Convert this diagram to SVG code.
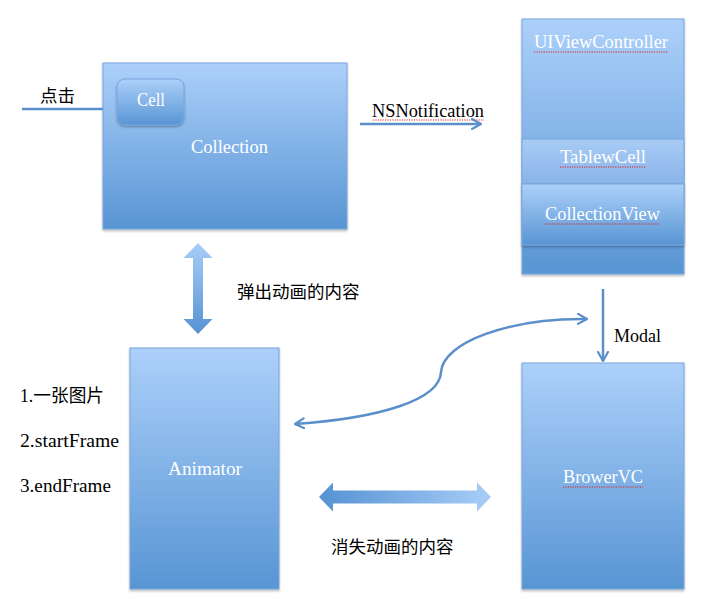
<svg xmlns="http://www.w3.org/2000/svg" width="716" height="610" viewBox="0 0 716 610">
<defs>
<linearGradient id="gv" x1="0" y1="0" x2="0" y2="1">
<stop offset="0" stop-color="#acd0fa"/>
<stop offset="1" stop-color="#5895d4"/>
</linearGradient>
<linearGradient id="gband" x1="0" y1="0" x2="0" y2="1">
<stop offset="0" stop-color="#a9cbf6"/>
<stop offset="1" stop-color="#88b4e8"/>
</linearGradient>
<linearGradient id="gh" x1="0" y1="0" x2="1" y2="0">
<stop offset="0" stop-color="#5592d2"/>
<stop offset="1" stop-color="#a9cdf8"/>
</linearGradient>
<linearGradient id="gvu" x1="0" y1="0" x2="0" y2="1">
<stop offset="0" stop-color="#a9cdf8"/>
<stop offset="1" stop-color="#5592d2"/>
</linearGradient>
<filter id="sh" x="-10%" y="-10%" width="120%" height="120%">
<feDropShadow dx="0" dy="1.5" stdDeviation="1.2" flood-color="#000" flood-opacity="0.3"/>
</filter>
<marker id="ah" viewBox="0 0 12 12" refX="10" refY="6" markerWidth="12" markerHeight="12" markerUnits="userSpaceOnUse" orient="auto-start-reverse">
<path d="M1,1 L10,6 L1,11" fill="none" stroke="#5b8fca" stroke-width="2.2" stroke-linecap="round" stroke-linejoin="round"/>
</marker>
</defs>
<style>
.box{fill:url(#gv);stroke:#79a6dc;stroke-width:1;filter:url(#sh)}
.wt{font-family:"Liberation Serif","DejaVu Serif",serif;font-size:18px;fill:#ffffff;text-anchor:middle}
.lb{font-family:"Liberation Serif","Noto Sans CJK SC",serif;font-size:18px;fill:#000000}
.cj{font-family:"Noto Sans CJK SC",sans-serif;font-size:17.5px;fill:#000000}
.cn{fill:none;stroke:#5b8fca;stroke-width:2.5}
.sq{fill:none;stroke:#e02020;stroke-width:1;stroke-dasharray:1.2 1.2}
</style>
<rect width="716" height="610" fill="#ffffff"/>

<g id="collection">
<rect class="box" x="103" y="63" width="244" height="166"/>
<text class="wt" x="229.5" y="153" textLength="77" lengthAdjust="spacingAndGlyphs">Collection</text>
</g>
<g id="cell">
<rect x="117" y="79" width="67" height="46" rx="8" fill="url(#gv)" stroke="#79a6dc" filter="url(#sh)"/>
<text class="wt" x="151" y="106" textLength="28" lengthAdjust="spacingAndGlyphs">Cell</text>
</g>

<g id="uiviewcontroller">
<rect class="box" x="522" y="19" width="162" height="255"/>
<text class="wt" x="601" y="48" textLength="134" lengthAdjust="spacingAndGlyphs">UIViewController</text>
<path class="sq" d="M534,52 H668"/>
</g>
<g id="tablewcell">
<rect x="522" y="139" width="162" height="45" fill="url(#gband)" stroke="#79a6dc"/>
<text class="wt" x="603" y="163" textLength="86" lengthAdjust="spacingAndGlyphs">TablewCell</text>
<path class="sq" d="M560,167 H646"/>
</g>
<g id="collectionview">
<rect x="522" y="184" width="162" height="61" fill="url(#gv)" stroke="#79a6dc" filter="url(#sh)"/>
<text class="wt" x="602.5" y="220" textLength="115" lengthAdjust="spacingAndGlyphs">CollectionView</text>
<path class="sq" d="M545,224 H660"/>
</g>

<g id="animator">
<rect class="box" x="130" y="348" width="149" height="241"/>
<text class="wt" x="205" y="475" textLength="74" lengthAdjust="spacingAndGlyphs">Animator</text>
</g>

<g id="browervc">
<rect class="box" x="522" y="363" width="162" height="226"/>
<text class="wt" x="603" y="483" textLength="80" lengthAdjust="spacingAndGlyphs">BrowerVC</text>
<path class="sq" d="M563,487 H643"/>
</g>

<g id="labels">
<text class="cj" x="40" y="102">点击</text>
<text class="lb" x="372" y="117" textLength="112" lengthAdjust="spacingAndGlyphs">NSNotification</text>
<path class="sq" d="M373,120 H484"/>
<text class="cj" x="237" y="298">弹出动画的内容</text>
<text class="lb" x="614" y="342" textLength="47" lengthAdjust="spacingAndGlyphs">Modal</text>
<text class="lb" x="20" y="402" textLength="84" lengthAdjust="spacingAndGlyphs">1.一张图片</text>
<text class="lb" x="20" y="447" textLength="99" lengthAdjust="spacingAndGlyphs">2.startFrame</text>
<text class="lb" x="20" y="492" textLength="91" lengthAdjust="spacingAndGlyphs">3.endFrame</text>
<text class="cj" x="331" y="553">消失动画的内容</text>
</g>

<g id="connectors">
<path class="cn" d="M22,109 H103"/>
<path class="cn" d="M360,124 H481" marker-end="url(#ah)"/>
<path class="cn" d="M603,289 V361" marker-end="url(#ah)"/>
<path class="cn" d="M295,424 C380,418 440,400 441,372 C443,342 510,318 587,319" marker-start="url(#ah)" marker-end="url(#ah)"/>
<polygon fill="url(#gvu)" points="198,243 212.5,258 203,258 203,319 212.5,319 198,334 183.5,319 193,319 193,258 183.5,258"/>
<polygon fill="url(#gh)" points="319,497 333,482.5 333,490.5 477,490.5 477,482.5 491,497 477,511.5 477,503.5 333,503.5 333,511.5"/>
</g>
</svg>
